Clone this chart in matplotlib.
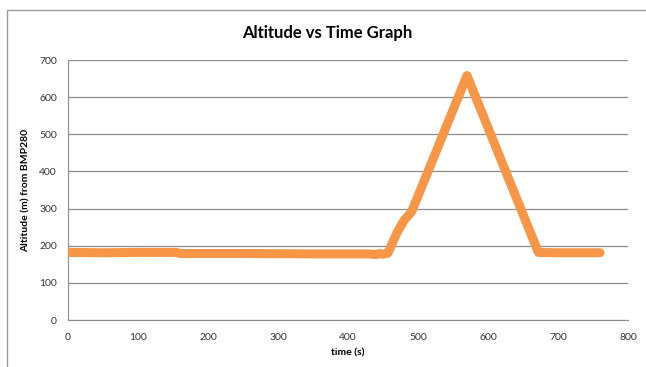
import matplotlib
matplotlib.use('Agg')
import matplotlib.pyplot as plt
from matplotlib.patches import Rectangle

plt.rcParams['font.family'] = ['Lato', 'DejaVu Sans']

# altitude readings
time_s = [0, 50, 100, 155, 160, 250, 350, 430, 440, 445, 450, 457, 470, 480, 491,
          570, 672, 700, 760]
altitude_m = [182, 181, 182, 182, 179, 179, 178, 178, 176, 179, 177, 180, 235, 268, 292,
              658, 182, 181, 181]

x_ticks = [0, 100, 200, 300, 400, 500, 600, 700, 800]
y_ticks = [0, 100, 200, 300, 400, 500, 600, 700]

fig = plt.figure(figsize=(6.46, 3.67), dpi=100)
ax = fig.add_axes([68 / 646, 47 / 367, 560 / 646, 260 / 367])

# outer chart frame
fig.patches.append(Rectangle((7 / 646, -0.1), 1.0, 1.1 - 10 / 367,
                             transform=fig.transFigure, fill=False,
                             edgecolor='#9a9a9a', linewidth=1))

ax.plot(time_s, altitude_m, color='#F79646', linewidth=6.5,
        solid_capstyle='round', solid_joinstyle='round', zorder=3)

ax.set_xlim(0, 800)
ax.set_ylim(0, 700)
ax.set_xticks(x_ticks)
ax.set_yticks(y_ticks)
ax.tick_params(length=0, labelsize=7.5, colors='#333333')
ax.tick_params(axis='x', pad=9)
ax.tick_params(axis='y', pad=8)
ax.grid(axis='y', color='#8c8c8c', linewidth=0.9)
ax.set_axisbelow(True)
for s in ['top', 'right']:
    ax.spines[s].set_visible(False)
for s in ['left', 'bottom']:
    ax.spines[s].set_color('#8c8c8c')

ax.set_xlabel('time (s)', fontsize=7.5, fontweight='bold', labelpad=5)
ax.set_ylabel('Altitude (m) from BMP280', fontsize=7.5, fontweight='bold', labelpad=6)
fig.text(327 / 646, 1 - 33 / 367, 'Altitude vs Time Graph', ha='center', va='center',
         fontsize=12, fontweight='bold')

fig.savefig('out.png', dpi=100)
